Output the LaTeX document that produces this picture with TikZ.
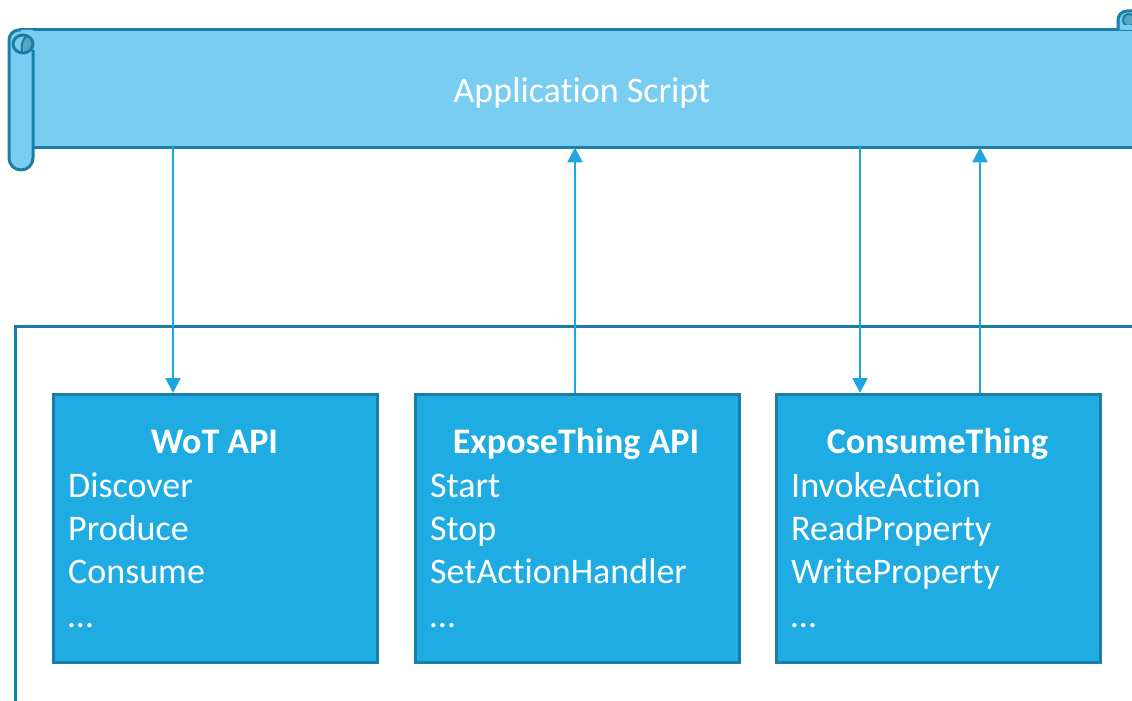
\documentclass[tikz,border=0pt]{standalone}
\usepackage{fontspec}
\setmainfont{Carlito}[Ligatures=NoCommon]
\usetikzlibrary{arrows.meta}
\definecolor{scrollfill}{RGB}{120,205,240}
\definecolor{edge}{RGB}{27,126,166}
\definecolor{boxfill}{RGB}{31,172,227}
\definecolor{flow}{RGB}{30,167,223}
\definecolor{curl}{RGB}{90,166,194}
\tikzset{
  apibox/.style={draw=edge, line width=3pt, fill=boxfill, minimum width=324pt,
    minimum height=268pt, inner sep=0pt, anchor=north west},
  boxtitle/.style={text=white, font=\fontsize{36}{43}\selectfont\bfseries, anchor=base, inner sep=0pt},
  boxitem/.style={text=white, font=\fontsize{36}{43}\selectfont, anchor=base west, inner sep=0pt},
  flowarrow/.style={draw=flow, line width=2.2pt, -{Triangle[width=15pt,length=15pt]}},
  scrolledge/.style={draw=edge, line width=3pt, line join=round}
}
\begin{document}
\begin{tikzpicture}[x=1pt, y=-1pt]
\useasboundingbox (0,0) rectangle (1132,701);
\clip (0,0) rectangle (1132,701);

% scroll body
\node[minimum width=1099pt, minimum height=117pt, inner sep=0pt, anchor=north west]
  (script) at (33,30) {};
\fill[scrollfill] (33,30) rectangle (1140,147);
\draw[scrolledge] (20,30) -- (1140,30);
\draw[scrolledge] (33,147) -- (1140,147);
\node[text=white, font=\fontsize{36}{43}\selectfont, anchor=base, inner sep=0pt]
  (title) at (582,102) {Application Script};

% right curl of the scroll
\fill[scrollfill] (1118,30) -- (1118,20) arc[start angle=180, end angle=270, radius=9] -- (1140,11) -- (1140,30) -- cycle;
\fill[curl] (1129,20) circle[radius=6];
\draw[edge, line width=2pt] (1129,20) circle[radius=6];
\fill[scrollfill] (1123,25) rectangle (1132,28);
\draw[scrolledge] (1118,30) -- (1118,20) arc[start angle=180, end angle=270, radius=9] -- (1140,11);

% left roll of the scroll
\fill[scrollfill] (9,158) -- (9,40) arc[start angle=180, end angle=270, radius=10] -- (33,30) -- (33,158)
  arc[start angle=0, end angle=180, radius=12] -- cycle;
\begin{scope}
  \clip (23,44) ellipse[x radius=10, y radius=9];
  \fill[curl] (29,45) ellipse[x radius=7, y radius=8];
\end{scope}
\draw[scrolledge] (33,50) -- (33,158) arc[start angle=0, end angle=180, radius=12]
  -- (9,40) arc[start angle=180, end angle=270, radius=10] -- (21,30);
\draw[scrolledge] (23,44) ellipse[x radius=10, y radius=9];
\draw[edge, line width=2pt] (22,52) .. controls (21,46) and (22,39) .. (27,36);

% runtime frame
\coordinate (frameend) at (1140,326);
\coordinate (framebottom) at (15,710);
\draw[edge, line width=3pt] (framebottom) |- (frameend);

% API boxes
\node[apibox] (wot) at (52,393) {};
\node[apibox] (expose) at (414,393) {};
\node[apibox] (consume) at (775,393) {};

\node[boxtitle] (wott) at (214.5,453) {WoT API};
\node[boxitem] (wot1) at (68,497) {Discover};
\node[boxitem] (wot2) at (68,540) {Produce};
\node[boxitem] (wot3) at (68,583) {Consume};
\node[boxitem] (wot4) at (68,627) {\ldots};

\node[boxtitle] (expt) at (576,453) {ExposeThing API};
\node[boxitem] (exp1) at (430,497) {Start};
\node[boxitem] (exp2) at (430,540) {Stop};
\node[boxitem] (exp3) at (430,583) {SetActionHandler};
\node[boxitem] (exp4) at (430,627) {\ldots};

\node[boxtitle] (cont) at (937.5,453) {ConsumeThing};
\node[boxitem] (con1) at (791,497) {InvokeAction};
\node[boxitem] (con2) at (791,540) {ReadProperty};
\node[boxitem] (con3) at (791,583) {WriteProperty};
\node[boxitem] (con4) at (791,627) {\ldots};

% calls between the script and the APIs
\coordinate (c1) at (173,0);
\coordinate (c2) at (575,0);
\coordinate (c3) at (860,0);
\coordinate (c4) at (980,0);
\draw[flowarrow] (script.south -| c1) -- (wot.north -| c1);
\draw[flowarrow] (expose.north -| c2) -- (script.south -| c2);
\draw[flowarrow] (script.south -| c3) -- (consume.north -| c3);
\draw[flowarrow] (consume.north -| c4) -- (script.south -| c4);
\end{tikzpicture}
\end{document}
